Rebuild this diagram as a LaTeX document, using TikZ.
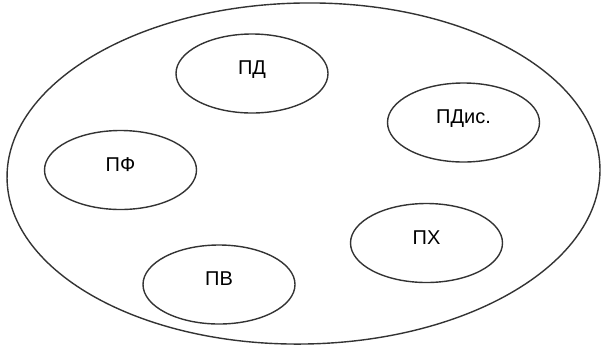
\documentclass[tikz,border=0pt]{standalone}
\usepackage{fontspec}
\setmainfont{Liberation Sans}
\usetikzlibrary{shapes}

\begin{document}
\begin{tikzpicture}[x=1pt,y=-1pt,line width=1.4pt,draw=black!80]
\tikzstyle{part}=[draw,ellipse,inner sep=0,minimum width=152pt,minimum height=79pt,font=\fontsize{20}{22}\selectfont,text height=14pt,text depth=12pt]
\useasboundingbox (0,0) rectangle (601,349);
\node[draw,ellipse,minimum width=593pt,minimum height=341pt,rotate=1] (all) at (303.5,173.5) {};
\node[part] (pd) at (252,73.5) {ПД};
\node[part] (pdis) at (463.5,122.5) {ПДис.};
\node[part] (pf) at (120.5,170) {ПФ};
\node[part] (ph) at (426.5,243) {ПХ};
\node[part] (pv) at (219,284.5) {ПВ};
\end{tikzpicture}
\end{document}
